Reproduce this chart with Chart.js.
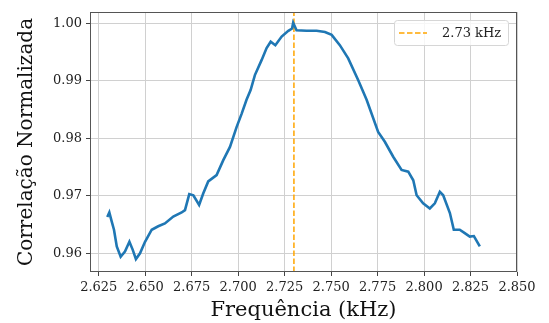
<!DOCTYPE html>
<html>
<head>
<meta charset="utf-8">
<script src="https://cdn.jsdelivr.net/npm/chart.js@4.4.1/dist/chart.umd.min.js"></script>
<style>
  html, body { margin: 0; padding: 0; background: #fff; }
  #wrap { width: 549px; height: 323px; }
</style>
</head>
<body>
<div id="wrap"><canvas id="chart"></canvas></div>
<script>
// Correlation curve
const freqKHz = [
  2.6296, 2.6307, 2.6320, 2.6332, 2.6347, 2.6368, 2.6391, 2.6415, 2.6433, 2.6450,
  2.6472, 2.6499, 2.6535, 2.6570, 2.6606, 2.6651, 2.6696, 2.6714, 2.6737, 2.6759,
  2.6790, 2.6812, 2.6839, 2.6884, 2.6920, 2.6956, 2.6992, 2.7019, 2.7045, 2.7067,
  2.7090, 2.7126, 2.7153, 2.7175, 2.7200, 2.7234, 2.7270, 2.7290, 2.7296, 2.7314,
  2.7368, 2.7422, 2.7467, 2.7503, 2.7547, 2.7592, 2.7646, 2.7691, 2.7753, 2.7789,
  2.7834, 2.7879, 2.7915, 2.7942, 2.7960, 2.7995, 2.8031, 2.8058, 2.8085, 2.8103,
  2.8139, 2.8160, 2.8192, 2.8219, 2.8246, 2.8268, 2.8300
];
const correlation = [
  0.9663, 0.9671, 0.9655, 0.9641, 0.9612, 0.9594, 0.9603, 0.9620, 0.9606, 0.9590,
  0.9600, 0.9620, 0.9641, 0.9647, 0.9652, 0.9664, 0.9671, 0.9675, 0.9703, 0.9701,
  0.9684, 0.9704, 0.9725, 0.9736, 0.9762, 0.9785, 0.9820, 0.9843, 0.9867, 0.9884,
  0.9910, 0.9936, 0.9957, 0.9968, 0.9962, 0.9977, 0.9987, 0.9991, 1.0001, 0.9988,
  0.9987, 0.9987, 0.9985, 0.9980, 0.9962, 0.9939, 0.9901, 0.9867, 0.9811, 0.9794,
  0.9768, 0.9745, 0.9742, 0.9727, 0.9701, 0.9687, 0.9678, 0.9687, 0.9707, 0.9701,
  0.9670, 0.9641, 0.9641, 0.9635, 0.9629, 0.9630, 0.9612
];

const peakFreq = 2.73;
const peakLabel = '2.73 kHz';

const xTicks = [2.625, 2.650, 2.675, 2.700, 2.725, 2.750, 2.775, 2.800, 2.825, 2.850];
const yTicks = [0.96, 0.97, 0.98, 0.99, 1.00];

const X_MIN = 2.6203, X_MAX = 2.85;
const Y_MIN = 0.95675, Y_MAX = 1.00197;

const SERIF = '"DejaVu Serif", serif';

// frame around plot area + legend box inside
const framePlugin = {
  id: 'frame',
  afterDraw(chart) {
    const { ctx, chartArea: a } = chart;
    ctx.save();
    ctx.strokeStyle = '#555';
    ctx.lineWidth = 1;
    ctx.strokeRect(a.left + 0.5, a.top + 0.5, a.right - a.left - 1, a.bottom - a.top - 1);

    // legend
    const bx = 394.5, by = 20.5, bw = 114, bh = 25;
    ctx.fillStyle = 'rgba(255,255,255,0.8)';
    ctx.strokeStyle = '#d6d6d6';
    ctx.beginPath();
    ctx.roundRect(bx, by, bw, bh, 3);
    ctx.fill();
    ctx.stroke();
    ctx.strokeStyle = 'orange';
    ctx.lineWidth = 1.5;
    ctx.setLineDash([5.5, 2.5]);
    ctx.beginPath();
    ctx.moveTo(399, by + bh / 2);
    ctx.lineTo(427, by + bh / 2);
    ctx.stroke();
    ctx.setLineDash([]);
    ctx.fillStyle = '#222';
    ctx.font = '13px ' + SERIF;
    ctx.textBaseline = 'middle';
    ctx.fillText(chart.data.datasets[1].label, 442, by + bh / 2 + 0.5);
    ctx.restore();
  }
};

new Chart(document.getElementById('chart'), {
  type: 'line',
  data: {
    datasets: [
      {
        label: 'correlacao',
        data: freqKHz.map((f, i) => ({ x: f, y: correlation[i] })),
        borderColor: '#1f77b4',
        borderWidth: 2.6,
        pointRadius: 0,
        tension: 0
      },
      {
        label: peakLabel,
        data: [{ x: peakFreq, y: Y_MIN }, { x: peakFreq, y: Y_MAX }],
        borderColor: 'orange',
        borderWidth: 1.5,
        borderDash: [5.5, 2.5],
        pointRadius: 0
      }
    ]
  },
  options: {
    responsive: true,
    maintainAspectRatio: false,
    animation: false,
    layout: { padding: { left: 0, top: 12, right: 32, bottom: 0 } },
    plugins: {
      legend: { display: false },
      tooltip: { enabled: false }
    },
    scales: {
      x: {
        type: 'linear',
        min: X_MIN,
        max: X_MAX,
        afterBuildTicks: s => { s.ticks = xTicks.map(v => ({ value: v })); },
        afterFit: s => { s.height = 51; },
        ticks: {
          color: '#222',
          font: { family: SERIF, size: 13 },
          padding: 4,
          maxRotation: 0,
          callback: v => v.toFixed(3)
        },
        grid: { color: '#d0d0d0', lineWidth: 1, tickLength: 4, tickColor: '#444' },
        border: { display: false },
        title: {
          display: true,
          text: 'Frequência (kHz)',
          color: '#111',
          font: { family: SERIF, size: 21 },
          padding: { top: 0, bottom: 0 }
        }
      },
      y: {
        min: Y_MIN,
        max: Y_MAX,
        afterBuildTicks: s => { s.ticks = yTicks.map(v => ({ value: v })); },
        afterFit: s => { s.width = 90; },
        ticks: {
          color: '#222',
          font: { family: SERIF, size: 13 },
          padding: 4,
          callback: v => v.toFixed(2)
        },
        grid: { color: '#d0d0d0', lineWidth: 1, tickLength: 4, tickColor: '#444' },
        border: { display: false },
        title: {
          display: true,
          text: 'Correlação Normalizada',
          color: '#111',
          font: { family: SERIF, size: 20 },
          padding: { top: 15, bottom: 4 }
        }
      }
    }
  },
  plugins: [framePlugin]
});
</script>
</body>
</html>
